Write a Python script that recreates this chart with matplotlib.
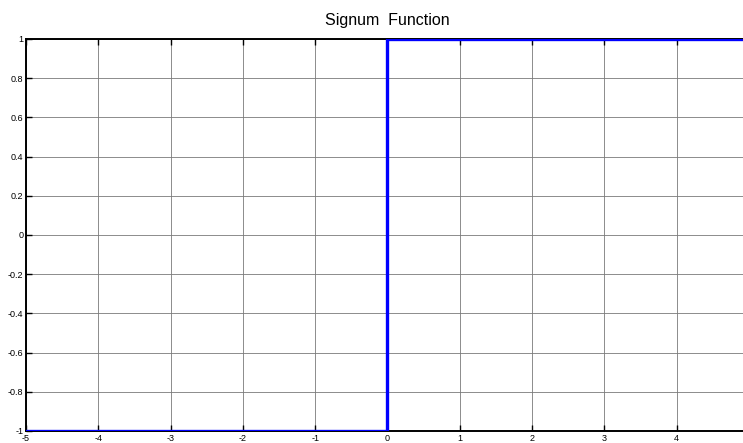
import matplotlib.pyplot as plt

# signum function sampled at its breakpoints
x_vals = [-5, 0, 0, 5]
y_vals = [-1, -1, 1, 1]
x_ticks = [-5, -4, -3, -2, -1, 0, 1, 2, 3, 4]
x_labels = ['-5', '-4', '-3', '-2', '-1', '0', '1', '2', '3', '4']
y_ticks = [-1, -0.8, -0.6, -0.4, -0.2, 0, 0.2, 0.4, 0.6, 0.8, 1]
y_labels = ['-1', '-0.8', '-0.6', '-0.4', '-0.2', '0', '0.2', '0.4', '0.6', '0.8', '1']

plt.rcParams['font.family'] = ['Liberation Sans', 'DejaVu Sans']

fig = plt.figure(figsize=(7.43, 4.43), dpi=100)
W, H = 743.0, 443.0
# the axes run a little past the right border
ax = fig.add_axes([26 / W, 12 / H, 723 / W, 392 / H])

ax.plot(x_vals, y_vals, color='#0000ff', linewidth=2.4, solid_joinstyle='miter', zorder=3)

ax.set_xlim(-5, 5)
ax.set_ylim(-1, 1)
ax.set_xticks(x_ticks)
ax.set_xticklabels(x_labels)
ax.set_yticks(y_ticks)
ax.set_yticklabels(y_labels)
ax.tick_params(direction='in', length=4, width=1, labelsize=6.5, pad=2,
               top=True, right=True, colors='black')
ax.grid(True, color='#7a7a7a', linewidth=0.6)
for side in ['left', 'bottom', 'top', 'right']:
    ax.spines[side].set_linewidth(1.4)
    ax.spines[side].set_color('black')

ax.set_title('Signum  Function', fontsize=11.5, pad=10)

fig.savefig('out.png', dpi=100)
